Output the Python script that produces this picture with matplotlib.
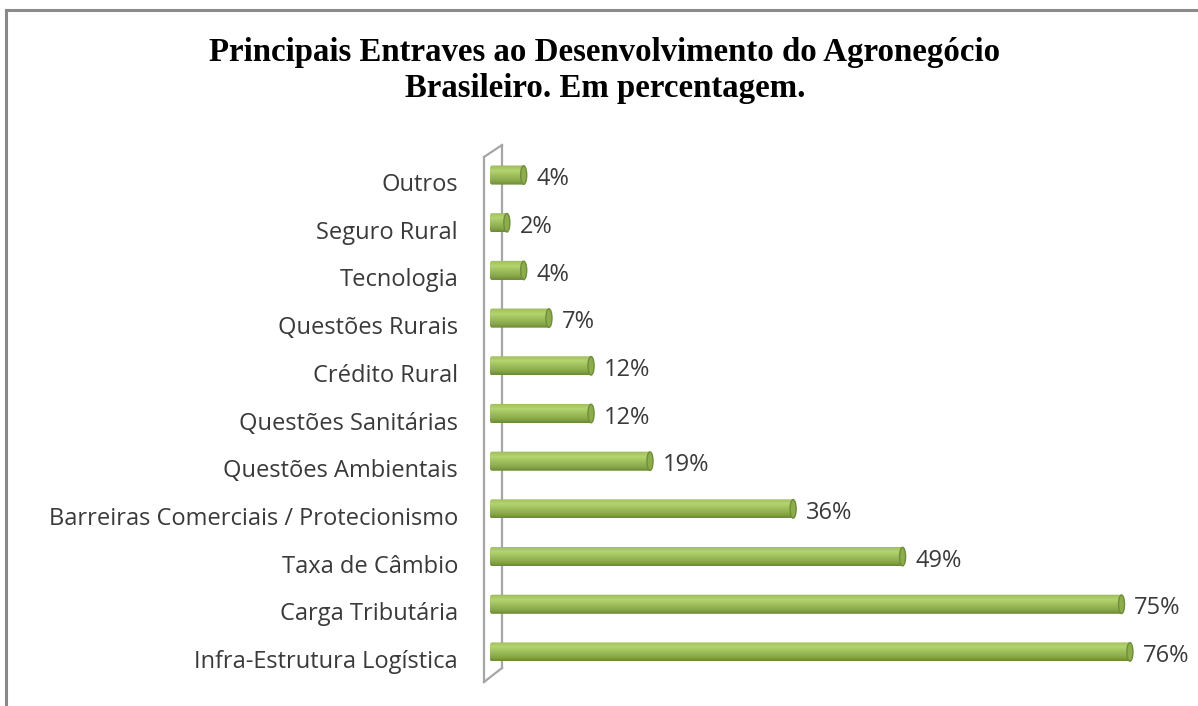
import numpy as np
import matplotlib.pyplot as plt
from matplotlib.lines import Line2D
from matplotlib.patches import Ellipse, Polygon
from matplotlib.colors import LinearSegmentedColormap
from matplotlib.transforms import ScaledTranslation

categorias = ['Infra-Estrutura Logística', 'Carga Tributária', 'Taxa de Câmbio',
              'Barreiras Comerciais / Protecionismo', 'Questões Ambientais',
              'Questões Sanitárias', 'Crédito Rural', 'Questões Rurais',
              'Tecnologia', 'Seguro Rural', 'Outros']
valores = [76, 75, 49, 36, 19, 12, 12, 7, 4, 2, 4]
rotulos = [f'{v}%' for v in valores]

W, H = 1198, 706
fig = plt.figure(figsize=(W / 100, H / 100), dpi=100)
fig.patch.set_facecolor('white')

# area do grafico (pixels -> fracao da figura)
x0, x1 = 490, 1190
ytop, ybot = 145, 682
ax = fig.add_axes([x0 / W, (H - ybot) / H, (x1 - x0) / W, (ybot - ytop) / H])
ax.set_xlim(0, (x1 - x0) / 8.42)
ax.set_ylim(-0.63, len(categorias) - 1 + 0.63)
for s in ax.spines.values():
    s.set_visible(False)
ax.set_xticks([])
ax.set_yticks(range(len(categorias)))
ax.set_yticklabels(categorias, fontsize=17, color='#3a3a3a', family='Open Sans')
ax.tick_params(axis='y', length=0, pad=23)
desce = ScaledTranslation(0, -7 / 100, fig.dpi_scale_trans)
for lb in ax.get_yticklabels():
    lb.set_transform(lb.get_transform() + desce)

# parede lateral 3D
aw = x1 - x0
ah = ybot - ytop
wall = dict(color='#a6a6a6', lw=1.6, transform=ax.transAxes, clip_on=False)
ax.plot([-6 / aw, -6 / aw], [0, (ybot - 157) / ah], **wall)
ax.plot([-6 / aw, 12 / aw], [(ybot - 157) / ah, 1], **wall)
ax.plot([12 / aw, 12 / aw], [14 / ah, 1], **wall)
ax.plot([-6 / aw, 12 / aw], [0, 14 / ah], **wall)

# cilindros
grad = LinearSegmentedColormap.from_list('cil', [
    (0.0, '#6a8a34'), (0.18, '#86a548'), (0.45, '#9dbd5b'),
    (0.72, '#b4d46e'), (0.88, '#a8c763'), (1.0, '#98b75a')])
g = np.linspace(0, 1, 64).reshape(-1, 1)
h = 0.40
a = 0.36
t = np.linspace(-np.pi / 2, np.pi / 2, 40)
for i, v in enumerate(valores):
    yc = i
    right = np.column_stack([v + a * np.cos(t), yc + h / 2 * np.sin(t)])
    left = np.column_stack([a * 0.6 - a * np.cos(t[::-1]), yc + h / 2 * np.sin(t[::-1])])
    poly = Polygon(np.vstack([right, left]), closed=True, facecolor='none', edgecolor='none')
    ax.add_patch(poly)
    im = ax.imshow(g, cmap=grad, aspect='auto', origin='lower',
                   extent=[0, v + a, yc - h / 2, yc + h / 2], zorder=3)
    im.set_clip_path(poly)
    ax.add_patch(Ellipse((v, yc), 2 * a, h * 0.97, facecolor='#8dac4c',
                         edgecolor='#6f8e3a', lw=1.0, zorder=4))
    ax.annotate(rotulos[i], (v + a, yc), xytext=(7, -3), textcoords='offset points',
                va='center', ha='left', fontsize=17, color='#3a3a3a',
                family='Open Sans')

# titulo
fig.text(0.505, 1 - 53 / H, 'Principais Entraves ao Desenvolvimento do Agronegócio',
         ha='center', va='center', fontsize=23.7, fontweight='bold',
         family='Liberation Serif')
fig.text(0.505, 1 - 89 / H, 'Brasileiro. Em percentagem.',
         ha='center', va='center', fontsize=23.7, fontweight='bold',
         family='Liberation Serif')

# moldura
fig.add_artist(Line2D([6 / W, 1], [1 - 10 / H, 1 - 10 / H], color='#8a8a8a', lw=2.2))
fig.add_artist(Line2D([6 / W, 6 / W], [0, 1 - 10 / H], color='#8a8a8a', lw=2.2))

fig.savefig('out.png', dpi=100)
